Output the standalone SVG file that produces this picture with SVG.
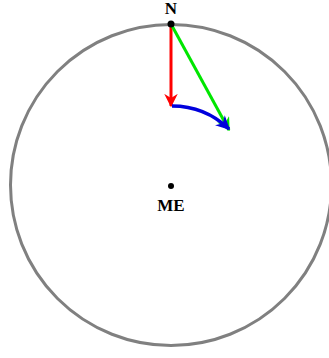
<svg xmlns="http://www.w3.org/2000/svg" width="329" height="358" viewBox="0 0 329 358">
<style>
.lbl{font-family:"Liberation Serif","DejaVu Serif",serif;font-weight:bold;font-size:17px;text-anchor:middle}
</style>
<defs>
<marker id="ar" viewBox="0 0 10 10" refX="9" refY="5" markerWidth="4.5" markerHeight="4.5" orient="auto" markerUnits="strokeWidth"><path d="M0,0 L10,5 L0,10 L3,5 Z" fill="red"/></marker>
<marker id="ag" viewBox="0 0 10 10" refX="9" refY="5" markerWidth="4.5" markerHeight="4.5" orient="auto" markerUnits="strokeWidth"><path d="M0,0 L10,5 L0,10 L3,5 Z" fill="#00e600"/></marker>
<marker id="ab" viewBox="0 0 10 10" refX="9" refY="5" markerWidth="4" markerHeight="4" orient="auto" markerUnits="strokeWidth"><path d="M0,0 L10,5 L0,10 L3,5 Z" fill="#0000dd"/></marker>
</defs>
<g id="circle"><circle cx="171" cy="185" r="160.5" fill="none" stroke="#808080" stroke-width="3"/></g>
<g id="connectors">
<line x1="171" y1="24" x2="171" y2="106" stroke="red" stroke-width="3" marker-end="url(#ar)"/>
<line x1="171" y1="24" x2="229" y2="130" stroke="#00e600" stroke-width="3" marker-end="url(#ag)"/>
<path d="M172,106 Q205,106 229,129" fill="none" stroke="#0000dd" stroke-width="3.5" marker-end="url(#ab)"/>
</g>
<g id="N"><circle cx="171" cy="24" r="3.5" fill="#000"/><text class="lbl" x="171" y="14">N</text></g>
<g id="ME"><circle cx="171" cy="186" r="3" fill="#000"/><text class="lbl" x="171" y="211">ME</text></g>
</svg>
